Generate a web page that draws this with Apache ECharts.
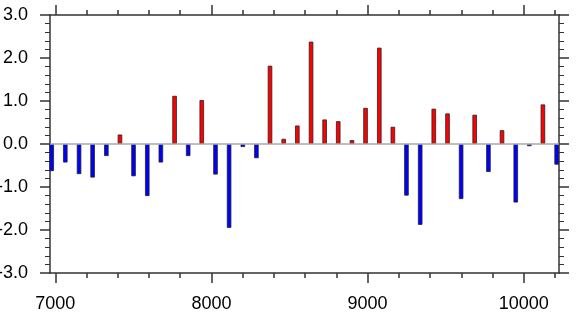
<!DOCTYPE html>
<html>
<head>
<meta charset="utf-8">
<script src="https://cdn.jsdelivr.net/npm/echarts@6/dist/echarts.min.js"></script>
<style>
html,body{margin:0;padding:0;background:#fff;}
#c{width:576px;height:313px;}
</style>
</head>
<body>
<div id="c"></div>
<script>
const xValues = [6977, 7064, 7152, 7239, 7327, 7414, 7501, 7589, 7676, 7764,
  7851, 7938, 8026, 8113, 8201, 8288, 8375, 8463, 8550, 8638,
  8725, 8812, 8900, 8987, 9075, 9162, 9249, 9337, 9424, 9512,
  9599, 9686, 9774, 9861, 9949, 10036, 10123, 10211];
const yValues = [-0.63, -0.43, -0.70, -0.78, -0.28, 0.22, -0.75, -1.21, -0.43, 1.12,
  -0.28, 1.02, -0.71, -1.95, -0.07, -0.33, 1.82, 0.12, 0.43, 2.38,
  0.57, 0.53, 0.09, 0.84, 2.24, 0.40, -1.20, -1.88, 0.82, 0.71,
  -1.28, 0.68, -0.65, 0.32, -1.36, -0.05, 0.92, -0.48];
const xMajorTicks = [7000, 8000, 9000, 10000];
const xMinorTicks = [7200, 7400, 7600, 7800, 8200, 8400, 8600, 8800, 9200, 9400, 9600, 9800, 10200];
const xMin = 6966, xMax = 10226;
const yMin = -3, yMax = 3, yStep = 1;

const font = {fontFamily: 'Liberation Sans, Arial, sans-serif', fontSize: 18, color: '#000'};
const lineCol = '#333';

function xAx(position, ticks, len, showLabel, showLine) {
  return {
    type: 'value', position: position, min: xMin, max: xMax,
    axisLine: {show: showLine, onZero: false, lineStyle: {color: lineCol, width: 1.5}},
    axisTick: {show: true, customValues: ticks, length: len, inside: false, lineStyle: {color: lineCol, width: 1.5}},
    axisLabel: showLabel ? Object.assign({show: true, customValues: ticks, margin: 22, formatter: v => String(v)}, font) : {show: false},
    splitLine: {show: false}
  };
}
function yAx(position, showLabel) {
  return {
    type: 'value', position: position, min: yMin, max: yMax, interval: yStep,
    axisLine: {show: true, onZero: false, lineStyle: {color: lineCol, width: 1.5}},
    axisTick: {show: true, length: 10, inside: false, lineStyle: {color: lineCol, width: 1.5}},
    minorTick: {show: true, splitNumber: 5, length: 5, lineStyle: {color: lineCol, width: 1}},
    axisLabel: showLabel ? Object.assign({show: true, margin: 22, formatter: v => v.toFixed(1)}, font) : {show: false},
    splitLine: {show: false}
  };
}

const chart = echarts.init(document.getElementById('c'), null, {renderer: 'canvas'});
chart.setOption({
  animation: false,
  backgroundColor: '#fff',
  grid: {left: 50, right: 17, top: 15, bottom: 40, containLabel: false, outerBoundsMode: 'none'},
  xAxis: [
    xAx('bottom', xMajorTicks, 10, true, true),
    xAx('bottom', xMinorTicks, 5, false, false),
    xAx('top', xMajorTicks, 10, false, true),
    xAx('top', xMinorTicks, 5, false, false)
  ],
  yAxis: [yAx('left', true), yAx('right', false)],
  series: [{
    type: 'bar',
    xAxisIndex: 0, yAxisIndex: 0,
    barWidth: 4.5,
    data: xValues.map((x, i) => [x, yValues[i]]),
    itemStyle: {
      color: p => p.value[1] >= 0 ? '#ff0000' : '#0000ff',
      borderColor: '#222', borderWidth: 0.8
    },
    markLine: {
      silent: true, symbol: 'none', label: {show: false},
      lineStyle: {color: '#aaaaaa', type: 'solid', width: 1.5},
      data: [{yAxis: 0}]
    }
  }]
});
</script>
</body>
</html>
